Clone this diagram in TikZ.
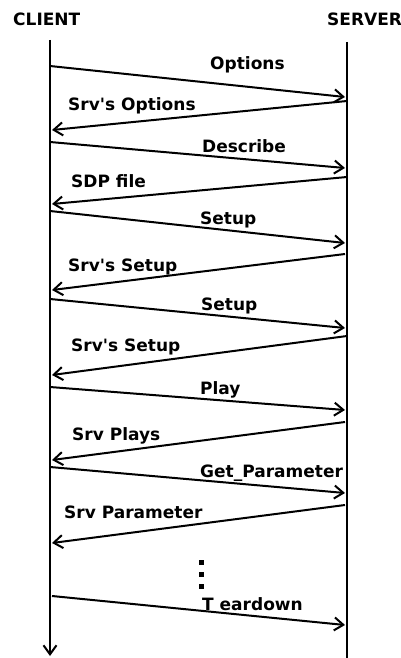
\documentclass[tikz,border=0pt]{standalone}
\usepackage{fontspec}
\setmainfont{DejaVu Sans}
\usetikzlibrary{arrows.meta}
\begin{document}
\begin{tikzpicture}[x=1pt,y=-1pt,
  lbl/.style={anchor=base west,inner sep=0pt,font=\fontsize{17}{20}\selectfont\bfseries},
  msg/.style={line width=2pt,-{Straight Barb[length=9pt,width=13pt,line width=2pt]}},
  life/.style={line width=2pt},
  dotsq/.style={fill=black,inner sep=0pt,minimum size=5pt,draw=none}]
\useasboundingbox (0,0) rectangle (401,658);
% lifelines
\coordinate (cTop) at (50,40);
\coordinate (cBot) at (50,656);
\coordinate (sTop) at (347,42);
\coordinate (sBot) at (347,660);
\draw[msg] (cTop) -- (cBot);
\draw[life] (sTop) -- (sBot);
\node[lbl] (client) at (13,26) {CLIENT};
\node[lbl] (server) at (327,26) {SERVER};
% message end points
\coordinate (c1) at (50,66);   \coordinate (s1) at (345,97);
\coordinate (s2) at (347,101); \coordinate (c2) at (52,130);
\coordinate (c3) at (50,142);  \coordinate (s3) at (345,168);
\coordinate (s4) at (347,177); \coordinate (c4) at (52,204);
\coordinate (c5) at (50,211);  \coordinate (s5) at (345,243);
\coordinate (s6) at (345,254); \coordinate (c6) at (52,290);
\coordinate (c7) at (50,299);  \coordinate (s7) at (345,328);
\coordinate (s8) at (347,336); \coordinate (c8) at (52,375);
\coordinate (c9) at (50,387);  \coordinate (s9) at (345,410);
\coordinate (s10) at (345,422);\coordinate (c10) at (52,460);
\coordinate (c11) at (50,467); \coordinate (s11) at (345,493);
\coordinate (s12) at (345,505);\coordinate (c12) at (52,543);
\coordinate (c13) at (52,596); \coordinate (s13) at (345,625);
\draw[msg] (c1) -- (s1);
\draw[msg] (s2) -- (c2);
\draw[msg] (c3) -- (s3);
\draw[msg] (s4) -- (c4);
\draw[msg] (c5) -- (s5);
\draw[msg] (s6) -- (c6);
\draw[msg] (c7) -- (s7);
\draw[msg] (s8) -- (c8);
\draw[msg] (c9) -- (s9);
\draw[msg] (s10) -- (c10);
\draw[msg] (c11) -- (s11);
\draw[msg] (s12) -- (c12);
\draw[msg] (c13) -- (s13);
% labels
\node[lbl] (l1) at (210,70) {Options};
\node[lbl] (l2) at (68,111) {Srv\textquotesingle s Options};
\node[lbl] (l3) at (202,152) {Describe};
\node[lbl] (l4) at (71,187) {SDP file};
\node[lbl] (l5) at (200,224) {Setup};
\node[lbl] (l6) at (68,271) {Srv\textquotesingle s Setup};
\node[lbl] (l7) at (201,310) {Setup};
\node[lbl] (l8) at (71,351) {Srv\textquotesingle s Setup};
\node[lbl] (l9) at (200,394) {Play};
\node[lbl] (l10) at (72,440) {Srv Plays};
\node[lbl] (l11) at (200,477) {Get\_Parameter};
\node[lbl] (l12) at (64,518) {Srv Parameter};
\node[lbl] (l13) at (202,610) {T eardown};
% ellipsis
\node[dotsq] (d1) at (201,562) {};
\node[dotsq] (d2) at (201,574) {};
\node[dotsq] (d3) at (201,586) {};
\end{tikzpicture}
\end{document}
